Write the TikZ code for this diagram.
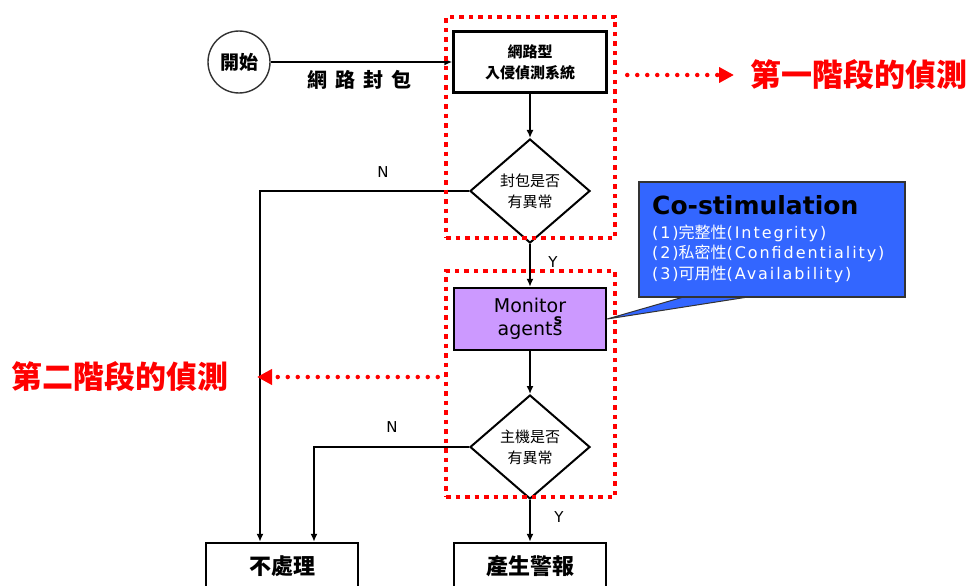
\documentclass[tikz,border=0pt]{standalone}
\usepackage{fontspec}
\setmainfont{DejaVu Sans}
\newfontfamily\cjk{Noto Sans CJK TC}
\newfontfamily\spacedlatin[LetterSpace=12]{DejaVu Sans}
\usetikzlibrary{shapes.geometric,arrows.meta}
\definecolor{agentpurple}{RGB}{204,153,255}
\definecolor{calloutblue}{RGB}{51,102,255}
\newcommand{\myfs}[2]{\fontsize{#1}{#2}\selectfont}
\begin{document}
\begin{tikzpicture}[x=1pt,y=-1pt,
  flow/.style={line width=2.2pt,-{Latex[length=8pt,width=7pt]}},
  proc/.style={draw,line width=2.4pt,fill=white,inner sep=0pt,align=center},
  dec/.style={diamond,draw,line width=2pt,fill=white,inner sep=0pt,minimum width=120pt,minimum height=104pt,align=center,font=\cjk\myfs{15}{21}},
  stagebox/.style={draw=red,line width=4.5pt,dash pattern=on 4.5pt off 5pt,inner sep=0pt},
  stagearrow/.style={red,line width=4.5pt,line cap=round,dash pattern=on 0pt off 10pt,-{Triangle[length=15pt,width=15pt]}},
  stagetext/.style={red,inner sep=0pt,font=\cjk\bfseries\myfs{31}{31}},
  yn/.style={inner sep=0pt,font=\myfs{15}{15}},
  costext/.style={white,inner sep=0pt,anchor=west,font=\spacedlatin\myfs{16}{16}}]
\useasboundingbox (0,0) rectangle (969,586);
\clip (0,0) rectangle (969,586);

% flow nodes
\node[circle,draw=black!80,line width=1.4pt,minimum size=62pt,inner sep=0pt,font=\cjk\bfseries\myfs{19}{19}] (start) at (239,62) {開始};
\node[proc,minimum width=153pt,minimum height=61pt,font=\cjk\bfseries\myfs{15}{21}] (ids) at (530,62) {網路型\\入侵偵測系統};
\node[dec] (d1) at (530,191) {封包是否\\有異常};
\node[proc,fill=agentpurple,minimum width=152pt,minimum height=62pt,font=\myfs{19}{23}] (mon) at (530,319) {Monitor\\agents};
\node[inner sep=0pt,font=\rmfamily\bfseries\myfs{14}{14}] (mons) at (558,321) {s};
\node[dec] (d2) at (530,447) {主機是否\\有異常};
\node[proc,minimum width=152pt,minimum height=46pt,font=\cjk\bfseries\myfs{22}{22}] (none) at (282,566) {不處理};
\node[proc,minimum width=152pt,minimum height=46pt,font=\cjk\bfseries\myfs{22}{22}] (alarm) at (530,566) {產生警報};

% labels
\node[inner sep=0pt,font=\cjk\bfseries\myfs{20}{20}] (pkt) at (359,80) {網\hspace{8pt}路\hspace{8pt}封\hspace{8pt}包};
\node[yn] (n1) at (383,172) {N};
\node[yn] (n2) at (392,427) {N};
\node[yn] (y1) at (553,262) {Y};
\node[yn] (y2) at (559,517) {Y};

% connectors
\draw[flow] (start) -- (ids);
\draw[flow] (ids) -- (d1);
\draw[flow] (d1) -- (mon);
\draw[flow] (mon) -- (d2);
\draw[flow] (d2) -- (alarm);
\draw[flow] (d1.west) -| ([xshift=-22pt]none.north);
\draw[flow] (d2.west) -| ([xshift=32pt]none.north);

% stage boxes
\node[stagebox,minimum width=169pt,minimum height=221pt] (stage1) at (530.5,127.5) {};
\node[stagebox,minimum width=169pt,minimum height=226pt] (stage2) at (530.5,384) {};

\node[stagetext,anchor=west] (t1) at (750,75) {第一階段的偵測};
\node[stagetext,anchor=east] (t2) at (229,377) {第二階段的偵測};
\draw[stagearrow] ([xshift=10pt]stage1.east |- t1.west) -- ([xshift=-16pt]t1.west);
\draw[stagearrow] ([xshift=-6pt]stage2.west |- t2.east) -- ([xshift=28pt]t2.east);

% callout
\node[minimum width=266pt,minimum height=115pt,inner sep=0pt] (co) at (772,239.5) {};
\filldraw[fill=calloutblue,draw=black!80,line width=1pt,line join=round] ([xshift=44pt]co.south west) -- (mon.east) -- ([xshift=108pt]co.south west) -- cycle;
\node[draw=black!80,fill=calloutblue,line width=1.4pt,minimum width=266pt,minimum height=115pt,inner sep=0pt] (cobox) at (co) {};
\node[inner sep=0pt,anchor=west,font=\bfseries\myfs{25}{25}] (cotitle) at (652,205) {Co-stimulation};
\node[costext] (co1) at (652,233) {(1){\cjk 完整性}(Integrity)};
\node[costext] (co2) at (652,253) {(2){\cjk 私密性}(Confidentiality)};
\node[costext] (co3) at (652,274) {(3){\cjk 可用性}(Availability)};
\end{tikzpicture}
\end{document}
